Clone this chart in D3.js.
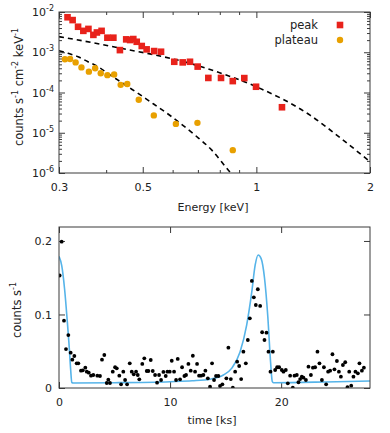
<!DOCTYPE html>
<html><head><meta charset="utf-8">
<script src="https://cdn.jsdelivr.net/npm/d3@7"></script>
<style>
body{margin:0;background:#fff}
svg{display:block}
text{font-family:"DejaVu Sans",Verdana,sans-serif;fill:#222}
</style>
</head><body>
<svg id="c" width="390" height="433"></svg>
<script>
// ---------- Spectrum (top panel) ----------
const peakE = [0.316,0.326,0.337,0.348,0.359,0.370,0.378,0.389,0.403,0.418,0.435,0.452,0.463,0.472,0.482,0.497,0.512,0.536,0.559,0.606,0.638,0.667,0.699,0.746,0.806,0.866,0.929,0.998,1.169];
const peakF = [7.4e-3,6.3e-3,4.3e-3,3.4e-3,3.8e-3,2.7e-3,3.1e-3,3.4e-3,2.3e-3,2.3e-3,1.13e-3,2.09e-3,2.01e-3,2.13e-3,1.82e-3,1.43e-3,1.18e-3,1.07e-3,1.03e-3,5.8e-4,5.6e-4,5.8e-4,4.4e-4,2.3e-4,2.3e-4,1.92e-4,2.28e-4,1.39e-4,4.3e-5];
const plateauE = [0.311,0.321,0.332,0.344,0.360,0.374,0.387,0.403,0.420,0.437,0.455,0.488,0.535,0.612,0.698,0.866];
const plateauF = [6.7e-4,6.8e-4,5.6e-4,4.2e-4,3.3e-4,4.0e-4,3.0e-4,2.7e-4,2.8e-4,1.55e-4,1.62e-4,6.6e-5,2.7e-5,1.66e-5,1.76e-5,3.7e-6];
const modelPeakE = [0.3,0.365,0.448,0.538,0.667,0.754,0.866,1.0,1.387,1.665,2.0];
const modelPeakF = [2.43e-3,1.76e-3,1.2e-3,8.6e-4,5.3e-4,3.71e-4,2.38e-4,1.39e-4,2.74e-5,7.6e-6,1.9e-6];
const modelPlatE = [0.3,0.317,0.337,0.358,0.381,0.404,0.430,0.457,0.486,0.516,0.597,0.688,0.762,0.851,0.87];
const modelPlatF = [1.09e-3,9.4e-4,7.73e-4,5.8e-4,4.36e-4,2.99e-4,2.03e-4,1.39e-4,9.5e-5,6.47e-5,2.49e-5,8.7e-6,3.7e-6,1.06e-6,8.5e-7];
const energyTicks = [0.3,0.5,1,2];
const energyLabels = ["0.3","0.5","1","2"];
const energyMinor = [0.4,0.6,0.7,0.8,0.9];
const fluxTicks = [1e-6,1e-5,1e-4,1e-3,1e-2];
const fluxExp = ["-6","-5","-4","-3","-2"];
const seriesNames = ["peak","plateau"];

// ---------- Light curve (bottom panel) ----------
const lcT = [0.06,0.24,0.45,0.63,0.84,1.05,1.20,1.38,1.59,1.74,1.98,2.14,2.37,2.50,2.68,2.88,3.09,3.45,3.69,3.87,4.08,4.30,4.44,4.59,4.84,5.05,5.20,5.43,5.59,5.79,5.95,6.13,6.37,6.55,6.73,6.94,7.09,7.23,7.50,7.68,7.90,8.05,8.26,8.44,8.65,8.83,9.01,9.19,9.40,9.61,9.76,9.97,10.15,10.36,10.54,10.69,10.90,11.08,11.29,11.44,11.65,11.86,12.05,12.25,12.43,12.61,12.79,13.00,13.18,13.40,13.60,13.78,13.96,14.14,14.35,14.50,14.71,15.07,15.25,15.47,15.65,15.86,16.04,16.22,16.40,16.60,16.82,17.00,17.18,17.36,17.54,17.72,17.90,18.11,18.29,18.50,18.68,18.86,19.04,19.25,19.46,19.64,19.82,20.06,20.21,20.42,20.60,20.81,21.05,21.20,21.41,21.56,21.71,21.86,22.01,22.23,22.46,22.68,22.86,23.06,23.27,23.45,23.67,23.85,24.05,24.23,24.41,24.62,24.80,25.02,25.20,25.38,25.56,25.77,25.97,26.13,26.31,26.51,26.69,26.91,27.05,27.27,27.45];
const lcV = [0.153,0.199,0.0916,0.053,0.072,0.048,0.0385,0.0435,0.0336,0.0336,0.0235,0.0241,0.0276,0.0222,0.0208,0.0167,0.0177,0.0167,0.0163,0.0385,0.0449,0.0068,0.0113,0.0068,0.0222,0.0282,0.0268,0.0167,0.005,0.0222,0.0109,0.005,0.0336,0.0222,0.0186,0.0222,0.0177,0.0118,0.0327,0.0404,0.0231,0.0231,0.0381,0.0231,0.0177,0.0072,0.0177,0.0109,0.0218,0.0163,0.0222,0.0222,0.0371,0.0222,0.0109,0.0395,0.0118,0.0282,0.0163,0.0177,0.0327,0.0235,0.0439,0.0222,0.0327,0.0167,0.0167,0.0177,0.0235,0.0132,0.0018,0.0336,0.0109,0.0163,0.0163,0.0027,0.005,0.0132,0.0548,0.0122,0.0004,0.0222,0.0358,0.0299,0.0122,0.0494,0.0336,0.0653,0.0948,0.1456,0.1234,0.1129,0.1343,0.1116,0.0758,0.0653,0.0752,0.0494,0.0222,0.0494,0.0245,0.0282,0.0282,0.0245,0.0222,0.0245,0.0064,0.0167,0.0004,0.0167,0.0177,0.0078,0.0122,0.0154,0.014,0.0109,0.029,0.0177,0.0276,0.0282,0.0494,0.0336,0.0109,0.0282,0.005,0.0222,0.0235,0.0459,0.0254,0.0367,0.0222,0.0154,0.0313,0.035,0.001,0.0222,0.0031,0.0154,0.0222,0.02,0.0336,0.0235,0.0276];
const fitT = [0,0.25,0.5,0.75,0.9,1.05,1.15,1.3,5,10,12,13.6,14.8,15.56,16.3,16.9,17.36,17.66,17.93,18.2,18.5,18.8,19.05,19.2,19.3,24,28];
const fitV = [0.179,0.166,0.135,0.09,0.06,0.025,0.0075,0.0068,0.0072,0.0086,0.0098,0.012,0.0177,0.027,0.049,0.086,0.131,0.167,0.181,0.176,0.150,0.097,0.035,0.009,0.0072,0.0082,0.0095];
const timeTicks = [0,10,20];
const rateTicks = [0,0.1,0.2];
const rateLabels = ["0","0.1","0.2"];

const C = {peak:"#e8221b", plateau:"#e8a000", fit:"#56b4e9", axis:"#3a3a3a"};
const svg = d3.select("#c");
const FS = 11;

function supLabel(sel, base, sup){
  sel.text(null);
  sel.append("tspan").text(base);
  sel.append("tspan").attr("dy",-5).attr("font-size",8).text(sup);
}

// ===== top panel =====
const P1 = {l:59,r:370,t:12,b:173};
const x1 = d3.scaleLog().domain([0.3,2]).range([P1.l,P1.r]);
const y1 = d3.scaleLog().domain([1e-6,1e-2]).range([P1.b,P1.t]);
const yMinor = [];
fluxTicks.slice(0,-1).forEach(d=>{for(let k=2;k<=9;k++) yMinor.push(d*k);});

svg.append("clipPath").attr("id","clip1").append("rect")
  .attr("x",P1.l).attr("y",P1.t).attr("width",P1.r-P1.l).attr("height",P1.b-P1.t);

function axes(gx){return gx.attr("color",C.axis).call(g=>g.select(".domain").remove());}
axes(svg.append("g").attr("transform",`translate(0,${P1.b})`)
  .call(d3.axisBottom(x1).tickValues(energyTicks).tickFormat((d,i)=>energyLabels[i]).tickSize(-6).tickPadding(10)))
  .selectAll("text").attr("font-size",FS);
axes(svg.append("g").attr("transform",`translate(0,${P1.b})`)
  .call(d3.axisBottom(x1).tickValues(energyMinor).tickFormat("").tickSize(-3)));
axes(svg.append("g").attr("transform",`translate(0,${P1.t})`)
  .call(d3.axisTop(x1).tickValues(energyTicks).tickFormat("").tickSize(-6)));
axes(svg.append("g").attr("transform",`translate(0,${P1.t})`)
  .call(d3.axisTop(x1).tickValues(energyMinor).tickFormat("").tickSize(-3)));
const ly = axes(svg.append("g").attr("transform",`translate(${P1.l},0)`)
  .call(d3.axisLeft(y1).tickValues(fluxTicks).tickSize(-6).tickPadding(5)));
ly.selectAll(".tick text").attr("font-size",FS).each(function(d,i){supLabel(d3.select(this),"10",fluxExp[i]);});
axes(svg.append("g").attr("transform",`translate(${P1.l},0)`)
  .call(d3.axisLeft(y1).tickValues(yMinor).tickFormat("").tickSize(-3)));
axes(svg.append("g").attr("transform",`translate(${P1.r},0)`)
  .call(d3.axisRight(y1).tickValues(fluxTicks).tickFormat("").tickSize(-6)));
axes(svg.append("g").attr("transform",`translate(${P1.r},0)`)
  .call(d3.axisRight(y1).tickValues(yMinor).tickFormat("").tickSize(-3)));

const plot1 = svg.append("g").attr("clip-path","url(#clip1)");
const line1 = d3.line().x(d=>x1(d[0])).y(d=>y1(d[1])).curve(d3.curveMonotoneX);
[[modelPeakE,modelPeakF],[modelPlatE,modelPlatF]].forEach(([E,F])=>{
  plot1.append("path").datum(E.map((e,i)=>[e,F[i]])).attr("d",line1)
    .attr("fill","none").attr("stroke","#000").attr("stroke-width",1.6).attr("stroke-dasharray","5,4");
});
plot1.selectAll("rect.pk").data(peakE.map((e,i)=>[e,peakF[i]])).join("rect")
  .attr("x",d=>x1(d[0])-3.3).attr("y",d=>y1(d[1])-3.3).attr("width",6.6).attr("height",6.6).attr("fill",C.peak);
plot1.selectAll("circle.pl").data(plateauE.map((e,i)=>[e,plateauF[i]])).join("circle")
  .attr("cx",d=>x1(d[0])).attr("cy",d=>y1(d[1])).attr("r",3.2).attr("fill",C.plateau);

svg.append("rect").attr("x",P1.l).attr("y",P1.t).attr("width",P1.r-P1.l).attr("height",P1.b-P1.t)
  .attr("fill","none").attr("stroke",C.axis).attr("stroke-width",1);

// legend
const leg = svg.append("g");
seriesNames.forEach((n,i)=>{
  const yy = 25 + i*15;
  leg.append("text").attr("x",318).attr("y",yy).attr("dy","0.35em").attr("text-anchor","end").attr("font-size",FS+0.5).text(n);
  if(i===0) leg.append("rect").attr("x",340-3.3).attr("y",yy-3.3).attr("width",6.6).attr("height",6.6).attr("fill",C.peak);
  else leg.append("circle").attr("cx",340).attr("cy",yy).attr("r",3.2).attr("fill",C.plateau);
});

// labels
svg.append("text").attr("x",213).attr("y",211).attr("text-anchor","middle").attr("font-size",FS).text("Energy [keV]");
const yl1 = svg.append("text").attr("transform","translate(23,87) rotate(-90)").attr("text-anchor","middle").attr("font-size",FS+0.5);
[["counts s",""],["-1","s"],[" cm",""],["-2","s"],[" keV",""],["-1","s"]].forEach(([t,s])=>{
  const ts = yl1.append("tspan").text(t);
  if(s){ts.attr("font-size",8).attr("dy",-5);} else if(t!=="counts s"){ts.attr("dy",5);}
});

// ===== bottom panel =====
const P2 = {l:59,r:370,t:227,b:388};
const x2 = d3.scaleLinear().domain([0,28]).range([P2.l,P2.r]);
const y2 = d3.scaleLinear().domain([0,0.219]).range([P2.b,P2.t]);
svg.append("clipPath").attr("id","clip2").append("rect")
  .attr("x",P2.l).attr("y",P2.t).attr("width",P2.r-P2.l).attr("height",P2.b-P2.t);

axes(svg.append("g").attr("transform",`translate(0,${P2.b})`)
  .call(d3.axisBottom(x2).tickValues(timeTicks).tickFormat(d3.format("d")).tickSize(-6).tickPadding(10)))
  .selectAll("text").attr("font-size",FS);
axes(svg.append("g").attr("transform",`translate(0,${P2.t})`)
  .call(d3.axisTop(x2).tickValues(timeTicks).tickFormat("").tickSize(-6)));
axes(svg.append("g").attr("transform",`translate(${P2.l},0)`)
  .call(d3.axisLeft(y2).tickValues(rateTicks).tickFormat((d,i)=>rateLabels[i]).tickSize(-6).tickPadding(7)))
  .selectAll("text").attr("font-size",FS);
axes(svg.append("g").attr("transform",`translate(${P2.r},0)`)
  .call(d3.axisRight(y2).tickValues(rateTicks).tickFormat("").tickSize(-6)));

const plot2 = svg.append("g").attr("clip-path","url(#clip2)");
plot2.append("path").datum(fitT.map((t,i)=>[t,fitV[i]]))
  .attr("d",d3.line().x(d=>x2(d[0])).y(d=>y2(d[1])).curve(d3.curveMonotoneX))
  .attr("fill","none").attr("stroke",C.fit).attr("stroke-width",1.6);
plot2.selectAll("circle").data(lcT.map((t,i)=>[t,lcV[i]])).join("circle")
  .attr("cx",d=>x2(d[0])).attr("cy",d=>y2(d[1])).attr("r",1.9).attr("fill","#000");

svg.append("rect").attr("x",P2.l).attr("y",P2.t).attr("width",P2.r-P2.l).attr("height",P2.b-P2.t)
  .attr("fill","none").attr("stroke",C.axis).attr("stroke-width",1);

svg.append("text").attr("x",212).attr("y",424).attr("text-anchor","middle").attr("font-size",FS).text("time [ks]");
const yl2 = svg.append("text").attr("transform","translate(21,310) rotate(-90)").attr("text-anchor","middle").attr("font-size",FS+0.5);
yl2.append("tspan").text("counts s");
yl2.append("tspan").attr("font-size",8).attr("dy",-5).text("-1");
</script>
</body></html>
